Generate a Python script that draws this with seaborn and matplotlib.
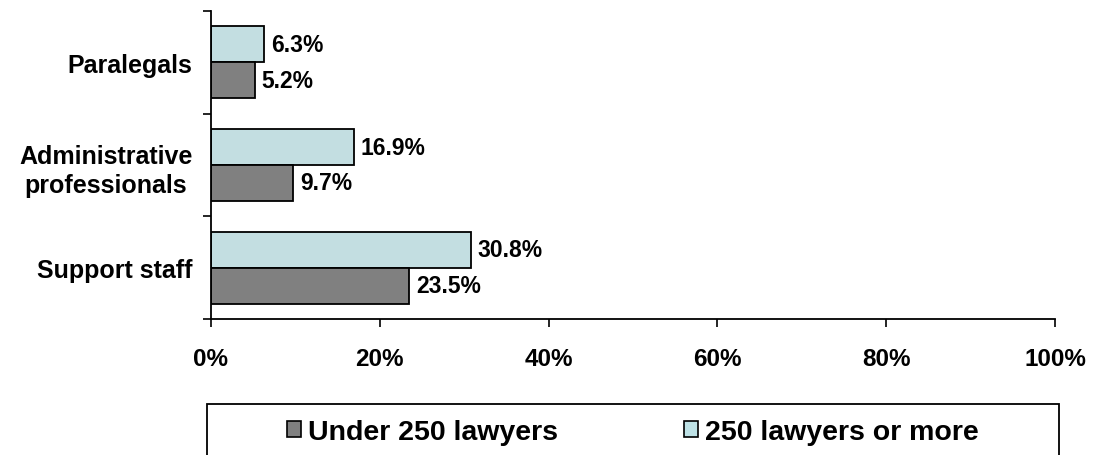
import pandas as pd
import matplotlib.pyplot as plt
import seaborn as sns
from matplotlib.patches import Rectangle
from matplotlib.ticker import FixedLocator, PercentFormatter

# Values
categories = ['Paralegals', 'Administrative\nprofessionals', 'Support staff']
under_250 = [5.2, 9.7, 23.5]
over_250 = [6.3, 16.9, 30.8]
series_names = ['Under 250 lawyers', '250 lawyers or more']
colors = {'Under 250 lawyers': '#808080', '250 lawyers or more': '#BEE2E6'}

df = pd.DataFrame({
    'category': categories * 2,
    'value': under_250 + over_250,
    'group': [series_names[0]] * 3 + [series_names[1]] * 3,
})

sns.set_style('white')
plt.rcParams['font.family'] = ['Liberation Sans', 'DejaVu Sans']
plt.rcParams['font.weight'] = 'bold'
plt.rcParams['text.color'] = 'black'

fig = plt.figure(figsize=(10.97, 4.56), dpi=100)
ax = fig.add_axes([211 / 1097, 1 - 320 / 456, 844 / 1097, 308 / 456])

sns.barplot(data=df, y='category', x='value', hue='group', orient='h',
            order=categories, hue_order=[series_names[1], series_names[0]],
            palette=colors, width=0.7, edgecolor='black', linewidth=1.3,
            legend=False, ax=ax)

for cont in ax.containers:
    ax.bar_label(cont, labels=[f'{v:.1f}%' for v in cont.datavalues],
                 padding=5, fontsize=16.5, fontweight='bold', color='black')

ax.set_xlim(0, 100)
ax.set_ylim(2.5, -0.5)
ax.xaxis.set_major_formatter(PercentFormatter(decimals=0))
ax.set_xticks([0, 20, 40, 60, 80, 100])
ax.tick_params(axis='x', direction='out', length=5.5, width=1.2, labelsize=17.5,
               pad=15, bottom=True, colors='black')

# y: ticks at category boundaries, labels centered between them
ax.yaxis.set_major_locator(FixedLocator([-0.5, 0.5, 1.5, 2.5]))
ax.yaxis.set_minor_locator(FixedLocator([0, 1, 2]))
ax.set_yticklabels([], minor=False)
ax.set_yticklabels(categories, minor=True, fontsize=18, fontweight='bold',
                   ha='right', multialignment='center', color='black',
                   linespacing=1.3)
ax.tick_params(axis='y', which='major', direction='out', length=6, width=1.2,
               left=True, colors='black')
ax.tick_params(axis='y', which='minor', length=0, pad=13.5)
ax.set_xlabel('')
ax.set_ylabel('')

for side in ['top', 'right']:
    ax.spines[side].set_visible(False)
for side in ['left', 'bottom']:
    ax.spines[side].set_color('black')
    ax.spines[side].set_linewidth(1.3)

# legend box, cut off by the bottom edge as in the original
fig.patches.append(Rectangle((207 / 1097, -0.05), 852 / 1097, 51 / 456 + 0.05,
                             transform=fig.transFigure, facecolor='none',
                             edgecolor='black', linewidth=1.3))

handles = [plt.Rectangle((0, 0), 1, 1, facecolor=colors[n], edgecolor='black',
                         linewidth=1.2) for n in series_names]
leg = fig.legend(handles, series_names, loc='center',
                 bbox_to_anchor=(633 / 1097, 23 / 456), ncol=2, fontsize=20.5,
                 frameon=False, handlelength=0.5, handleheight=0.5,
                 handletextpad=0.25, columnspacing=4.4, borderpad=0)
for t in leg.get_texts():
    t.set_fontweight('bold')

fig.savefig('out.png', dpi=100)
